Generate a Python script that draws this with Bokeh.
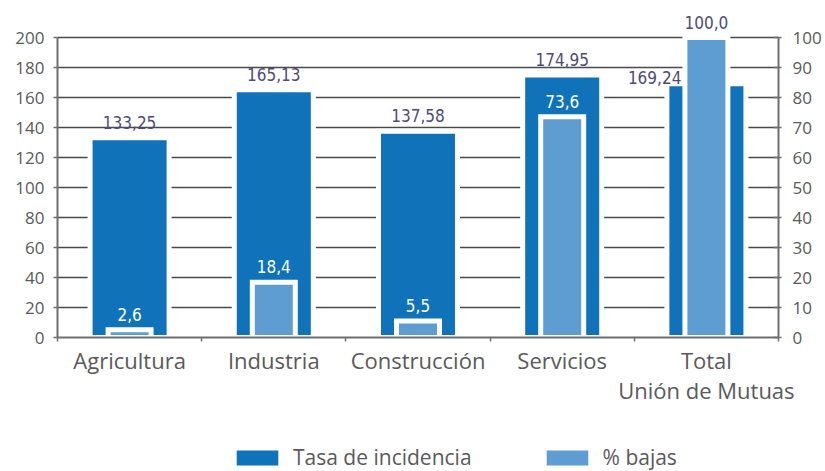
import numpy as np
from bokeh.plotting import figure
from bokeh.layouts import column
from bokeh.models import (Range1d, LinearAxis, FixedTicker, ColumnDataSource,
                          Legend, LegendItem, Grid, LabelSet)
from bokeh.core.properties import value
from bokeh.embed import file_html
from bokeh.resources import INLINE

# ---------------- data ----------------
categories = ["Agricultura", "Industria", "Construcción", "Servicios", "Total\nUnión de Mutuas"]
tasa_incidencia = [133.25, 165.13, 137.58, 174.95, 169.24]
pct_bajas = [2.6, 18.4, 5.5, 73.6, 100.0]
left_ticks = [0, 20, 40, 60, 80, 100, 120, 140, 160, 180, 200]
right_ticks = [0, 10, 20, 30, 40, 50, 60, 70, 80, 90, 100]
series_names = ["Tasa de incidencia", "% bajas"]

# ---------------- styles ----------------
DARK = "#1073ba"
LIGHT = "#5e9dd1"
LABEL_PURPLE = "#4f4a78"
AXIS_GREY = "#6f6f6f"
TEXT_GREY = "#5a5a5a"
GRID = "#4a4a4a"
AX_FONT = "Open Sans"
VAL_FONT = value("DejaVu Sans Condensed")

n = len(categories)
x = (np.arange(n) + 0.5).tolist()
tasa_txt = [f"{v:.2f}".replace(".", ",") for v in tasa_incidencia]
pct_txt = [f"{v:.1f}".replace(".", ",") for v in pct_bajas]

src = ColumnDataSource(dict(x=x, tasa=tasa_incidencia, pct=pct_bajas))
main = ColumnDataSource(dict(x=x[:-1], tasa=tasa_incidencia[:-1], pct=pct_bajas[:-1],
                             tasa_txt=tasa_txt[:-1], pct_txt=pct_txt[:-1]))
tot = ColumnDataSource(dict(x=x[-1:], tasa=tasa_incidencia[-1:], pct=pct_bajas[-1:],
                            tasa_txt=tasa_txt[-1:], pct_txt=pct_txt[-1:]))

p = figure(width=825, height=425, x_range=Range1d(0, n), y_range=Range1d(0, 216),
           output_backend="svg", toolbar_location=None,
           x_axis_type=None, y_axis_type=None,
           min_border_left=57, min_border_right=47, min_border_top=13, min_border_bottom=88)
p.outline_line_color = None
p.extra_y_ranges = {"pct": Range1d(0, 108)}

yl = LinearAxis(ticker=FixedTicker(ticks=left_ticks), bounds=(0, 200))
yr = LinearAxis(y_range_name="pct", ticker=FixedTicker(ticks=right_ticks), bounds=(0, 100))
for ax in (yl, yr):
    ax.axis_line_color = AXIS_GREY
    ax.axis_line_width = 2
    ax.major_tick_line_color = AXIS_GREY
    ax.major_tick_line_width = 1.5
    ax.minor_tick_line_color = None
    ax.major_label_text_font = AX_FONT
    ax.major_label_text_font_size = "17px"
    ax.major_label_text_color = TEXT_GREY
yl.major_tick_out = 4
yl.major_tick_in = 0
yl.major_label_standoff = 9
yr.major_tick_out = 3
yr.major_tick_in = 5
yr.major_label_standoff = 11
p.add_layout(yl, "left")
p.add_layout(yr, "right")

xa = LinearAxis(ticker=FixedTicker(ticks=x, minor_ticks=list(range(n + 1))),
                major_label_overrides={xi: c for xi, c in zip(x, categories)})
xa.axis_line_color = AXIS_GREY
xa.axis_line_width = 2
xa.major_tick_in = 0
xa.major_tick_out = 0
xa.minor_tick_in = 0
xa.minor_tick_out = 4
xa.minor_tick_line_color = AXIS_GREY
xa.minor_tick_line_width = 1.5
xa.major_label_text_font = AX_FONT
xa.major_label_text_font_size = "22px"
xa.major_label_text_color = TEXT_GREY
xa.major_label_standoff = 3
xa.major_label_text_line_height = 1.0
p.add_layout(xa, "below")

p.add_layout(Grid(dimension=1, ticker=FixedTicker(ticks=left_ticks),
                  grid_line_color=GRID, grid_line_width=1.5))

p.vbar(x="x", top="tasa", bottom=0, width=0.548, source=src,
       fill_color=DARK, line_color="white", line_width=5, line_join="miter")
p.vbar(x="x", top="pct", bottom=0, width=0.298, source=src, y_range_name="pct",
       fill_color=LIGHT, line_color="white", line_width=5, line_join="miter")

lab = dict(text_font=VAL_FONT, text_font_size="17px", text_baseline="alphabetic")
p.add_layout(LabelSet(x="x", y="tasa", text="tasa_txt", source=main, text_align="center",
                      y_offset=9, text_color=LABEL_PURPLE, **lab))
p.add_layout(LabelSet(x="x", y="tasa", text="tasa_txt", source=tot, text_align="right",
                      x_offset=-25, y_offset=0, text_color=LABEL_PURPLE, **lab))
p.add_layout(LabelSet(x="x", y="pct", text="pct_txt", source=main, y_range_name="pct",
                      text_align="center", y_offset=9, text_color="white", **lab))
p.add_layout(LabelSet(x="x", y="pct", text="pct_txt", source=tot, y_range_name="pct",
                      text_align="center", y_offset=9, text_color=LABEL_PURPLE, **lab))

# legend in its own strip below the chart (frame aligned with the chart frame)
lg = figure(width=825, height=46, x_range=Range1d(0, 1), y_range=Range1d(0, 1),
            output_backend="svg", toolbar_location=None,
            x_axis_type=None, y_axis_type=None, min_border=0)
lg.outline_line_color = None
lg.xgrid.visible = False
lg.ygrid.visible = False
# swatch renderers kept outside the visible range of the strip
leg_dark = lg.vbar(x=[-1], top=[0], width=0.1, fill_color=DARK, line_color=None)
leg_light = lg.vbar(x=[-1], top=[0], width=0.1, fill_color=LIGHT, line_color=None)
legend = Legend(items=[LegendItem(label=series_names[0], renderers=[leg_dark]),
                       LegendItem(label=series_names[1], renderers=[leg_light])],
                orientation="horizontal", location=(174, 0),
                glyph_width=52, glyph_height=19, label_standoff=10, spacing=69,
                padding=0, margin=0, border_line_color=None, background_fill_alpha=0,
                label_text_font=AX_FONT, label_text_font_size="21px",
                label_text_color=TEXT_GREY)
lg.add_layout(legend)

layout = column(p, lg, spacing=0)
open("out.html", "w").write(file_html(layout, INLINE))
